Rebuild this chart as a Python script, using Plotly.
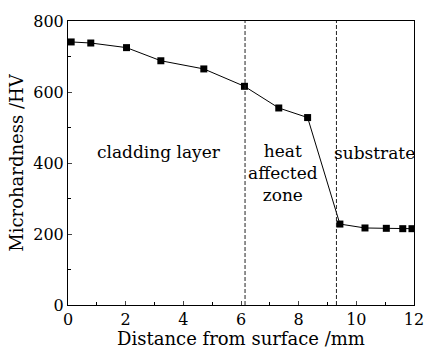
import plotly.graph_objects as go

distance = [0.11, 0.79, 2.03, 3.22, 4.71, 6.12, 7.31, 8.31, 9.43, 10.30, 11.04, 11.61, 11.93]
hardness = [741, 738, 725, 688, 665, 616, 555, 528, 228, 217, 216, 215, 215]
boundaries = [6.14, 9.31]
x_ticks = [0, 2, 4, 6, 8, 10, 12]
y_ticks = [0, 200, 400, 600, 800]

FONT = "DejaVu Serif"

fig = go.Figure()
fig.add_trace(go.Scatter(
    x=distance, y=hardness, mode="lines+markers",
    line=dict(color="black", width=1),
    marker=dict(symbol="square", size=7, color="black"),
    showlegend=False,
))
for b in boundaries:
    fig.add_shape(type="line", x0=b, x1=b, y0=0, y1=800, xref="x", yref="y",
                  line=dict(color="#222", width=1, dash="4px,2px"))

ann_font = dict(family=FONT, size=17, color="black")
fig.add_annotation(x=3.16, y=431, text="cladding layer", showarrow=False, font=ann_font)
fig.add_annotation(x=7.45, y=372, text="heat<br>affected<br>zone", showarrow=False,
                   font=ann_font)
fig.add_annotation(x=10.62, y=428, text="substrate", showarrow=False, font=ann_font)

fig.update_layout(
    width=425, height=349,
    margin=dict(l=68, r=11, t=21, b=44, autoexpand=False),
    paper_bgcolor="white", plot_bgcolor="white",
    font=dict(family=FONT, size=16, color="black"),
)
fig.update_xaxes(
    range=[0, 12], tickvals=x_ticks, ticks="inside", ticklen=4,
    minor=dict(ticks="inside", dtick=1, ticklen=3, tickcolor="black"),
    showline=True, linecolor="black", linewidth=1, mirror=True,
    showgrid=False, zeroline=False, ticklabeloverflow="allow", automargin=False,
    title=dict(text="Distance from surface /mm", standoff=3, font=dict(size=18)),
    tickfont=dict(size=16),
)
fig.update_yaxes(
    range=[0, 800], tickvals=y_ticks, ticks="inside", ticklen=4,
    minor=dict(ticks="inside", dtick=100, ticklen=3, tickcolor="black"),
    showline=True, linecolor="black", linewidth=1, mirror=True,
    showgrid=False, zeroline=False, ticklabeloverflow="allow", automargin=False,
    title=dict(text="Microhardness /HV", standoff=4, font=dict(size=18)),
    tickfont=dict(size=16),
)
fig.write_html("out.html")
